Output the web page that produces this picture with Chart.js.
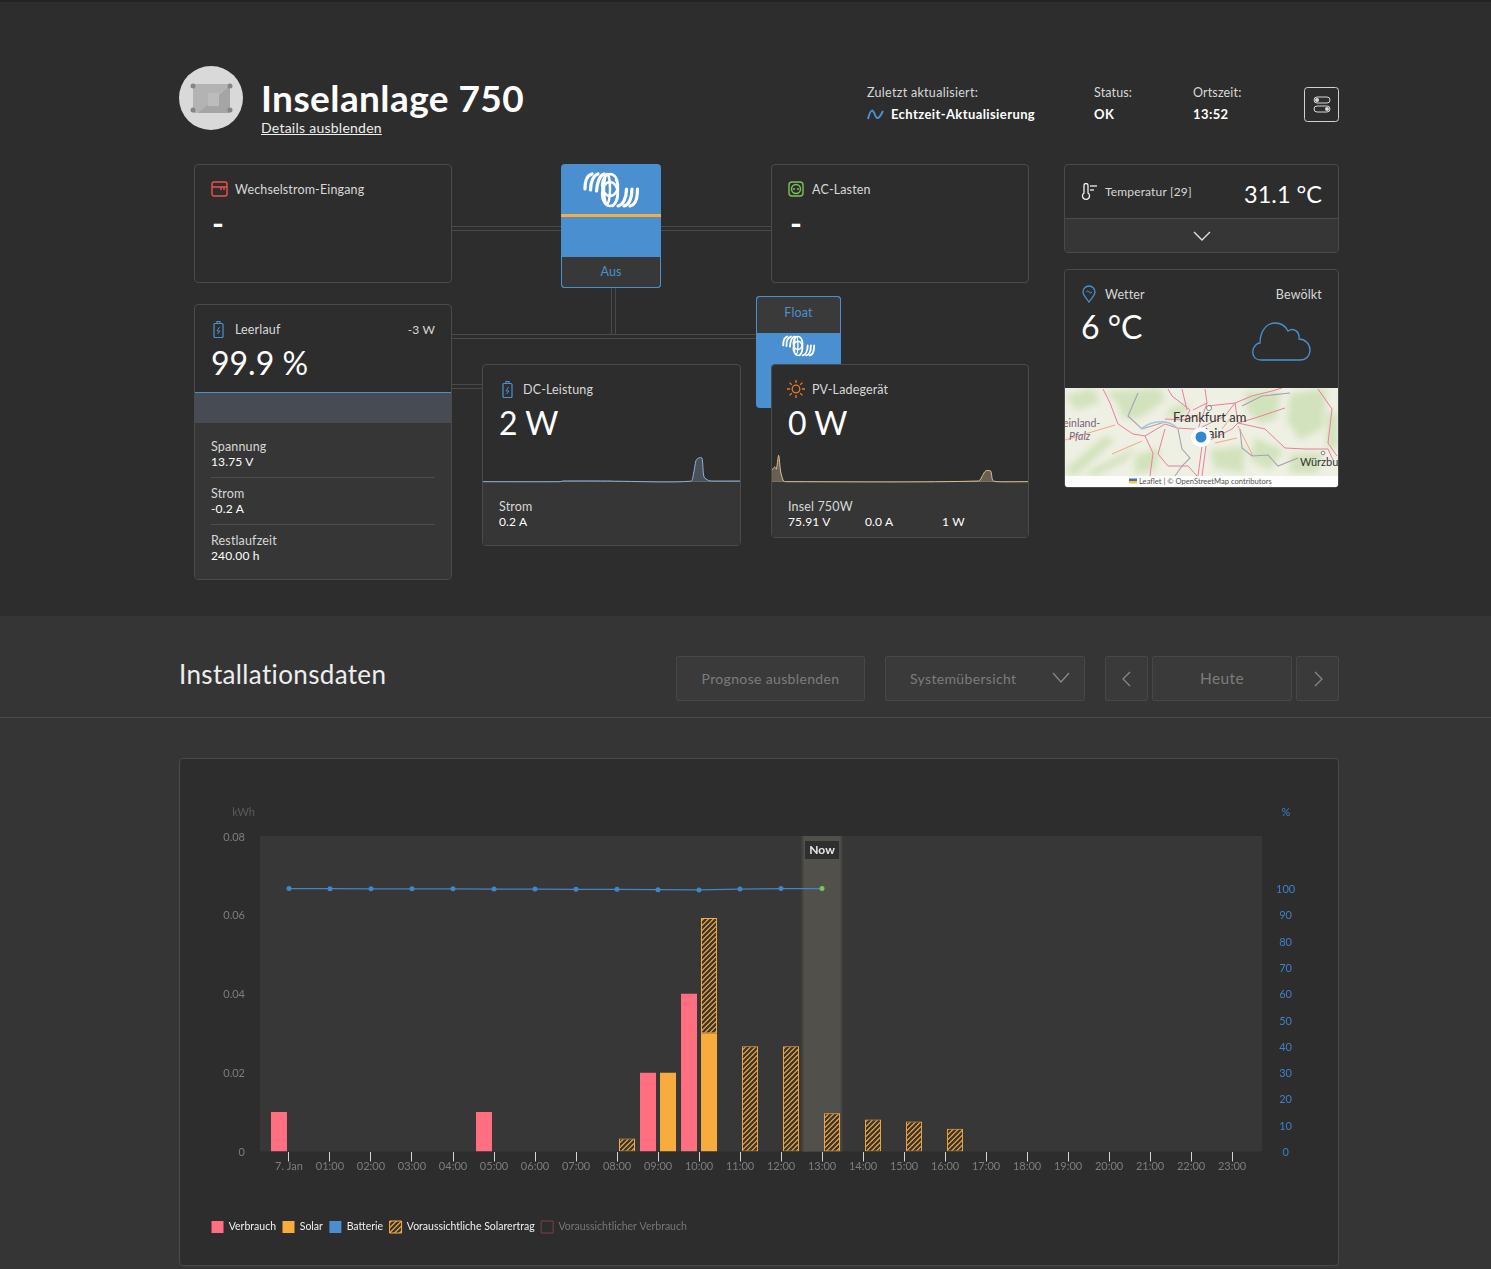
<!DOCTYPE html>
<html lang="de">
<head>
<meta charset="utf-8">
<title>Inselanlage 750</title>
<script src="https://cdn.jsdelivr.net/npm/chart.js@4"></script>
<style>
html, body { margin: 0; padding: 0; width: 1491px; height: 1269px; overflow: hidden; background: #2d2d2d; }
body { position: relative; font-family: Lato, "Open Sans", sans-serif; color: #ddd; }
.abs, .t, .card, .btn { position: absolute; box-sizing: border-box; }
.t { font-size: 12.5px; line-height: 16px; white-space: nowrap; color: #d8d8d8; letter-spacing: .15px; margin-top: 1px; }
.b { font-weight: 700; color: #fff; letter-spacing: .4px; margin-top: 0; }
.v { color: #fff; font-size: 12px; margin-top: 0; }
.big { font-size: 32px; line-height: 40px; color: #fff; letter-spacing: 0; margin-top: 0; }
.card { border: 1px solid #4a4a4a; border-radius: 4px; background: #2d2d2d; }
.low { position: absolute; left: 0; right: 0; bottom: 0; background: #363636; border-radius: 0 0 3px 3px; }
.wire { position: absolute; box-sizing: border-box; border: 0 solid #4a4a4a; }
.btn { border: 1px solid #474747; border-radius: 2px; background: #3a3a3a; color: #7c7c7c; font-size: 14px; line-height: 43px; text-align: center; letter-spacing: .35px; }
canvas { position: absolute; display: block; }
svg { position: absolute; display: block; }
</style>
</head>
<body>
<svg width="0" height="0"><defs>
<symbol id="vlogo" viewBox="0 0 56 36">
  <g fill="none" stroke="#fff" stroke-linecap="round">
    <g stroke-width="3.200">
      <path d="M2 17C2 8 5 3 9 2"/><path d="M7.500 18C7.500 9 11 3 15 2"/><path d="M13.500 19C14 10 17 3 21 2"/>
      <path d="M54.500 17C54.500 26 52 33 47 34"/><path d="M49 17C49 26 46 33 41 34"/><path d="M43.500 17C43.500 26 40 33 35 34"/>
    </g>
    <g stroke-width="2.400">
      <ellipse cx="27" cy="13" rx="8" ry="11"/><ellipse cx="27" cy="22" rx="8" ry="12"/><ellipse cx="24" cy="17" rx="3" ry="15"/>
      <path d="M33 8C36 12 36 27 30 34"/>
    </g>
  </g>
</symbol>
</defs></svg>

<!-- Kopfbereich -->
<div class="abs" style="left:0;top:0;width:1491px;height:2px;background:#232326"></div>
<svg style="left:179px;top:66px" width="64" height="64" viewBox="0 0 64 64">
  <circle cx="32" cy="32" r="32" fill="#d9d9d9"/>
  <rect x="14" y="18" width="37" height="29" fill="#b3b3b3"/>
  <path d="M19 47L51 20V47Z" fill="#a5a5a5"/>
  <rect x="29" y="27" width="11" height="13" fill="#bcbcbc"/>
  <g fill="#858585"><circle cx="14" cy="20" r="2.500"/><circle cx="51" cy="20" r="2.500"/><circle cx="14" cy="44" r="2.500"/><circle cx="51" cy="44" r="2.500"/></g>
</svg>
<div class="t" style="left:261px;top:75px;font-size:37px;line-height:46px;font-weight:700;color:#fff;letter-spacing:.42px;margin:0">Inselanlage 750</div>
<div class="t" style="left:261px;top:120px;font-size:14px;color:#eee;text-decoration:underline;letter-spacing:.25px;margin:0">Details ausblenden</div>
<div class="t" style="left:867px;top:84px;letter-spacing:.3px">Zuletzt aktualisiert:</div>
<svg style="left:867px;top:109px" width="17" height="12" viewBox="0 0 17 12"><path d="M1 10C4 -2 6 1 8 6S12 10 16 2" fill="none" stroke="#4a90d0" stroke-width="2"/></svg>
<div class="t b" style="left:891px;top:106px;font-size:13px">Echtzeit-Aktualisierung</div>
<div class="t" style="left:1094px;top:84px">Status:</div>
<div class="t b" style="left:1094px;top:106px;font-size:13px">OK</div>
<div class="t" style="left:1193px;top:84px">Ortszeit:</div>
<div class="t b" style="left:1193px;top:106px;font-size:13px">13:52</div>
<svg style="left:1304px;top:87px" width="35" height="35" viewBox="0 0 35 35">
  <rect x=".5" y=".5" width="34" height="34" rx="3" fill="none" stroke="#d0d0d0"/>
  <g fill="none" stroke="#d8d8d8"><rect x="10" y="10" width="16" height="6" rx="3"/><rect x="10" y="19" width="16" height="6" rx="3"/></g>
  <circle cx="13" cy="13" r="2" fill="#d8d8d8"/><circle cx="23" cy="22" r="2" fill="#d8d8d8"/>
</svg>

<!-- Verbindungen -->
<div class="wire" style="left:452px;top:226px;width:109px;height:5px;border-width:1px 0"></div>
<div class="wire" style="left:661px;top:226px;width:110px;height:5px;border-width:1px 0"></div>
<div class="wire" style="left:452px;top:334px;width:304px;height:5px;border-width:1px 0"></div>
<div class="wire" style="left:611px;top:288px;width:5px;height:47px;border-width:0 1px"></div>
<div class="wire" style="left:452px;top:384px;width:30px;height:5px;border-width:1px 0"></div>

<!-- Wechselstrom-Eingang -->
<div class="card" style="left:194px;top:164px;width:258px;height:119px"></div>
<svg style="left:211px;top:181px" width="17" height="16" viewBox="0 0 17 16"><g fill="none" stroke="#f0524e" stroke-width="1.400"><rect x="1" y="1" width="15" height="14" rx="2"/><path d="M1 6H16M10 6V9M13 6V9"/></g></svg>
<div class="t" style="left:235px;top:181px">Wechselstrom-Eingang</div>
<div class="t big" style="left:212px;top:203px;font-weight:700">-</div>

<!-- Wechselrichter -->
<div class="abs" style="left:561px;top:164px;width:100px;height:124px;background:#4a90d0;border-radius:4px"></div>
<svg style="left:583px;top:172px" width="56" height="36"><use href="#vlogo"/></svg>
<div class="abs" style="left:561px;top:214px;width:100px;height:3px;background:#f9ac3e"></div>
<div class="t abs" style="left:561px;top:257px;width:100px;height:31px;line-height:30px;background:#383838;border:1px solid #4a90d0;border-top:0;border-radius:0 0 4px 4px;text-align:center;color:#4a90d0;margin:0">Aus</div>

<!-- AC-Lasten -->
<div class="card" style="left:771px;top:164px;width:258px;height:119px"></div>
<svg style="left:788px;top:181px" width="16" height="16" viewBox="0 0 16 16"><g fill="none" stroke="#7ac25a" stroke-width="1.400"><rect x="1" y="1" width="14" height="14" rx="3"/><circle cx="8" cy="8" r="4.500"/></g><circle cx="6" cy="8" r="1" fill="#7ac25a"/><circle cx="10" cy="8" r="1" fill="#7ac25a"/></svg>
<div class="t" style="left:812px;top:181px">AC-Lasten</div>
<div class="t big" style="left:790px;top:203px;font-weight:700">-</div>

<!-- Temperatur -->
<div class="card" style="left:1064px;top:164px;width:275px;height:89px"><div class="low" style="height:33px;border-top:1px solid #4a4a4a"></div></div>
<svg style="left:1081px;top:183px" width="17" height="18" viewBox="0 0 17 18"><g fill="none" stroke="#f2f2f2" stroke-width="1.300"><path d="M3 10V2.500a2 2 0 0 1 4 0V10a3.500 3.500 0 1 1-4 0Z"/><path d="M9 3H16"/><path d="M9 7H13"/></g></svg>
<div class="t" style="left:1105px;top:183px;font-size:12px">Temperatur [29]</div>
<div class="t" style="right:169px;top:178px;font-size:23.500px;line-height:32px;color:#fff;letter-spacing:0;margin:0">31.1 °C</div>
<svg style="left:1193px;top:231px" width="18" height="11" viewBox="0 0 18 11"><path d="M1 1L9 9L17 1" fill="none" stroke="#e0e0e0" stroke-width="1.400"/></svg>

<!-- Wetter -->
<div class="card" style="left:1064px;top:269px;width:275px;height:219px"></div>
<svg style="left:1082px;top:285px" width="14" height="18" viewBox="0 0 14 18"><path d="M7 17C4 13 1 10 1 7a6 6 0 0 1 12 0C13 10 10 13 7 17Z" fill="none" stroke="#4a90d0" stroke-width="1.300"/><path d="M4 7q1.500-2 3 0t3 0" fill="none" stroke="#4a90d0"/></svg>
<div class="t" style="left:1105px;top:286px">Wetter</div>
<div class="t" style="right:169px;top:286px">Bewölkt</div>
<div class="t big" style="left:1081px;top:307px">6 °C</div>
<svg style="left:1252px;top:322px" width="60" height="40" viewBox="0 0 60 40"><path d="M9 38C2 38 0 32 1 28C2 24 5 21 8 21C8 10 14 1 23 1C30 1 34 5 36 9C42 5 48 10 47 17C53 17 58 22 58 28C58 34 54 38 48 38Z" fill="none" stroke="#4a90d0" stroke-width="1.300"/></svg>

<!-- Karte -->
<svg style="left:1065px;top:388px;border-radius:0 0 3px 3px" width="273" height="99" viewBox="0 0 273 99" font-family="Lato, sans-serif">
  <rect width="273" height="99" fill="#eef0e3"/>
  <g fill="#d2e2bc" style="filter:blur(3px)">
    <path d="M40 4L95 0L100 12L75 30L58 30L52 14Z"/><path d="M0 82L40 48L50 52L10 88Z"/><path d="M20 85L70 60L62 72L30 88Z"/>
    <path d="M180 4H215L212 30L195 36L182 22Z"/><path d="M225 6L262 0L258 40L235 52L222 32Z"/><path d="M262 25H273V60H262Z"/>
    <path d="M145 62L180 58L178 85L150 80Z"/><path d="M190 50L218 62L205 82L185 72Z"/><path d="M225 66L258 65L252 85L225 85Z"/>
    <path d="M105 20L125 15L120 26L100 30Z"/><path d="M0 8L28 0L35 14L12 22Z"/><path d="M70 68L95 60L90 82L70 86Z"/>
  </g>
  <g fill="none" stroke="#ea7f9c" stroke-width="1">
    <path d="M38 1L45 15L53 36L68 46L80 48"/><path d="M80 48L88 65L85 88"/><path d="M80 48L100 36L112 40L128 41"/>
    <path d="M100 41L93 66L103 78L123 78L132 88"/><path d="M103 1L107 8L125 22L120 32L100 31"/>
    <path d="M140 1L142 15L128 22"/><path d="M142 15L133 41"/><path d="M143 18L170 15L187 8L207 3L217 0"/>
    <path d="M170 15L173 35L200 41L220 60L240 61L263 61"/><path d="M137 58L133 88"/><path d="M141 58L137 88"/>
    <path d="M143 53L167 41L173 35"/><path d="M253 1L267 21L263 55L272 68"/><path d="M128 41L133 41L160 28L170 15"/>
    <path d="M120 32L133 27"/><path d="M173 35L190 30L220 20"/><path d="M263 61L268 72"/><path d="M117 1L122 22"/>
  </g>
  <g fill="none" stroke="#f0a88a" stroke-width="1">
    <path d="M0 52L50 37"/><path d="M47 66L77 53"/><path d="M173 38L188 68"/><path d="M157 41L167 28"/><path d="M150 55L172 50"/>
  </g>
  <g fill="none" stroke="#a8a0b4" stroke-width="1.100">
    <path d="M73 5L63 28L77 41L100 34"/><path d="M113 41L117 61L125 70L117 78L110 88"/><path d="M177 18L197 8L225 5"/>
    <path d="M175 41L177 60L187 68L203 67L213 78L233 70"/>
  </g>
  <path d="M76 41C90 30 105 33 112 40" fill="none" stroke="#a9c4de" stroke-width="1.600"/>
  <circle cx="144" cy="20" r="2.500" fill="#fff" stroke="#555" stroke-width=".7"/>
  <circle cx="258" cy="65" r="1.800" fill="#fff" stroke="#555" stroke-width=".7"/>
  <text x="108" y="34" font-size="13" fill="#333">Frankfurt am</text>
  <text x="131" y="50" font-size="13" fill="#333">Main</text>
  <text x="-2" y="39" font-size="10.500" fill="#7a5f80">einland-</text>
  <text x="4" y="52" font-size="10.500" font-style="italic" fill="#7a5f80">Pfalz</text>
  <text x="235" y="78" font-size="11" fill="#333">Würzbur</text>
  <rect y="88" width="273" height="11" fill="#fff" opacity=".85"/>
  <rect x="64" y="90.500" width="8" height="2.500" fill="#3d6fc0"/><rect x="64" y="93" width="8" height="2.500" fill="#f5cb2f"/>
  <text x="74" y="96" font-size="7.600" fill="#555">Leaflet | © OpenStreetMap contributors</text>
  <circle cx="136" cy="49" r="10" fill="#fff"/><circle cx="136" cy="49" r="5.500" fill="#2f88d0"/>
</svg>

<!-- Leerlauf -->
<div class="card" style="left:194px;top:304px;width:258px;height:276px"><div class="low" style="height:157px"></div></div>
<svg style="left:212px;top:321px" width="13" height="17" viewBox="0 0 13 17"><g fill="none" stroke="#4a90d0" stroke-width="1.200"><rect x="2" y="2.500" width="9" height="14" rx="1"/><path d="M5 2V.5H8V2"/></g><path d="M7.500 6L5 10H8L5.500 13" fill="none" stroke="#4a90d0"/></svg>
<div class="t" style="left:235px;top:321px">Leerlauf</div>
<div class="t" style="right:1056px;top:321px;font-size:12px">-3 W</div>
<div class="t big" style="left:211px;top:343px">99.9 %</div>
<div class="abs" style="left:195px;top:392px;width:256px;height:31px;background:#474c54;border-top:1px solid #4a90d0"></div>
<div class="t" style="left:211px;top:438px">Spannung</div>
<div class="t v" style="left:211px;top:454px">13.75 V</div>
<div class="abs" style="left:211px;top:477px;width:224px;height:1px;background:#4d4d4d"></div>
<div class="t" style="left:211px;top:485px">Strom</div>
<div class="t v" style="left:211px;top:501px">-0.2 A</div>
<div class="abs" style="left:211px;top:524px;width:224px;height:1px;background:#4d4d4d"></div>
<div class="t" style="left:211px;top:532px">Restlaufzeit</div>
<div class="t v" style="left:211px;top:548px">240.00 h</div>

<!-- Laderegler -->
<div class="abs" style="left:756px;top:296px;width:85px;height:112px;background:#4a90d0;border-radius:4px"></div>
<div class="t abs" style="left:756px;top:296px;width:85px;height:37px;line-height:31px;background:#3a3a3a;border:1px solid #4a90d0;border-bottom:0;border-radius:4px 4px 0 0;text-align:center;color:#4a90d0;margin:0">Float</div>
<svg style="left:782px;top:335px" width="33" height="22"><use href="#vlogo"/></svg>

<!-- DC-Leistung -->
<div class="card" style="left:482px;top:364px;width:259px;height:182px"><div class="low" style="height:63px;border-top:1px solid #4a4a4a"></div></div>
<svg style="left:501px;top:381px" width="13" height="17" viewBox="0 0 13 17"><g fill="none" stroke="#4a90d0" stroke-width="1.200"><rect x="2" y="2.500" width="9" height="14" rx="1"/><path d="M5 2V.5H8V2"/></g><path d="M7.500 6L5 10H8L5.500 13" fill="none" stroke="#4a90d0"/></svg>
<div class="t" style="left:523px;top:381px">DC-Leistung</div>
<div class="t big" style="left:499px;top:403px">2 W</div>
<canvas id="dcSpark" width="257" height="36" style="left:483px;top:448px"></canvas>
<div class="t" style="left:499px;top:498px">Strom</div>
<div class="t v" style="left:499px;top:514px">0.2 A</div>

<!-- PV-Ladegerät -->
<div class="card" style="left:771px;top:364px;width:258px;height:174px"><div class="low" style="height:55px;border-top:1px solid #4a4a4a"></div></div>
<svg style="left:787px;top:380px" width="18" height="18" viewBox="0 0 18 18"><circle cx="9" cy="9" r="3.800" fill="none" stroke="#e57a2c" stroke-width="1.300"/><path d="M9 0V3M9 15V18M0 9H3M15 9H18M2.600 2.600L4.700 4.700M13.300 13.300L15.400 15.400M2.600 15.400L4.700 13.300M13.300 4.700L15.400 2.600" stroke="#e57a2c" stroke-width="1.300"/></svg>
<div class="t" style="left:812px;top:381px">PV-Ladegerät</div>
<div class="t big" style="left:788px;top:403px">0 W</div>
<canvas id="pvSpark" width="256" height="36" style="left:772px;top:448px"></canvas>
<div class="t" style="left:788px;top:498px">Insel 750W</div>
<div class="t v" style="left:788px;top:514px">75.91 V</div>
<div class="t v" style="left:865px;top:514px">0.0 A</div>
<div class="t v" style="left:942px;top:514px">1 W</div>

<!-- Installationsdaten -->
<div class="abs" style="left:0;top:616px;width:1491px;height:653px;background:#353535"></div>
<div class="t" style="left:179px;top:656px;font-size:26px;line-height:36px;color:#eee;letter-spacing:.35px;margin:0">Installationsdaten</div>
<div class="btn" style="left:676px;top:656px;width:189px;height:45px">Prognose ausblenden</div>
<div class="btn" style="left:885px;top:656px;width:200px;height:45px;text-align:left;padding-left:24px">Systemübersicht</div>
<svg style="left:1052px;top:672px" width="18" height="12" viewBox="0 0 18 12"><path d="M1 1L9 10L17 1" fill="none" stroke="#8a8a8a" stroke-width="1.200"/></svg>
<div class="btn" style="left:1105px;top:656px;width:43px;height:45px"></div>
<svg style="left:1121px;top:671px" width="11" height="16" viewBox="0 0 11 16"><path d="M9 1L2 8L9 15" fill="none" stroke="#8a8a8a" stroke-width="1.200"/></svg>
<div class="btn" style="left:1152px;top:656px;width:140px;height:45px;font-size:15.500px">Heute</div>
<div class="btn" style="left:1296px;top:656px;width:43px;height:45px"></div>
<svg style="left:1313px;top:671px" width="11" height="16" viewBox="0 0 11 16"><path d="M2 1L9 8L2 15" fill="none" stroke="#8a8a8a" stroke-width="1.200"/></svg>
<div class="abs" style="left:0;top:717px;width:1491px;height:1px;background:#4a4a4a"></div>

<div class="card" style="left:179px;top:758px;width:1160px;height:508px"></div>
<canvas id="mainChart" width="1105" height="453" style="left:205px;top:790px"></canvas>

<script>
// Stunden und Beschriftungen der x-Achse
const hours = [0,1,2,3,4,5,6,7,8,9,10,11,12,13,14,15,16,17,18,19,20,21,22,23];
const hourLabels = ['7. Jan','01:00','02:00','03:00','04:00','05:00','06:00','07:00','08:00','09:00','10:00','11:00','12:00','13:00','14:00','15:00','16:00','17:00','18:00','19:00','20:00','21:00','22:00','23:00'];
const nowHour = 13;

// kWh pro Stunde
const consumption = [0.01,0,0,0,0,0.01,0,0,0,0.02,0.04,0,0,0,0,0,0,0,0,0,0,0,0,0];
const solar = [0,0,0,0,0,0,0,0,0,0.02,0.03,0,0,0,0,0,0,0,0,0,0,0,0,0];
const solarForecast = [null,null,null,null,null,null,null,null,0.0033,null,0.0292,0.0267,0.0267,0.0097,0.0081,0.0076,0.0058,null,null,null,null,null,null,null];

// Ladezustand in %
const battery = [100,99.95,99.9,99.9,99.9,99.8,99.8,99.7,99.7,99.6,99.5,99.8,100,100,null,null,null,null,null,null,null,null,null,null];

const kwhTicks = [0,0.02,0.04,0.06,0.08];
const kwhTickLabels = ['0','0.02','0.04','0.06','0.08'];
const percentTicks = [0,10,20,30,40,50,60,70,80,90,100];

// Kleine Verläufe in den Karten (x in % der Breite, y in Pixelhöhe)
const dcSparkX = [0,30,31,50,51,80.900,81.900,82.900,83.900,85.200,86,87.800,89.100,100];
const dcSparkY = [0.3,0.3,1,1,0.8,0.8,8,21.7,24,24,5,1.5,1,1];
const pvSparkX = [0,1,1.700,2.600,3.400,4.500,5.600,80.700,82.300,83.400,85.400,86.200,87.900,100];
const pvSparkY = [11.700,15,13,26.700,10,1,0.3,1,6.700,11,11,1.700,0.300,0.300];

const FONT = 'Lato, "Open Sans", sans-serif';
Chart.defaults.animation = false;
Chart.defaults.font.family = FONT;

// Schraffur für die Prognose
function makeHatch() {
    const c = document.createElement('canvas');
    c.width = 5;
    c.height = 5;
    const g = c.getContext('2d');
    g.fillStyle = '#f9ac3e';
    g.fillRect(0, 0, 5, 5);
    g.strokeStyle = '#3a3530';
    g.lineWidth = 2.300;
    g.beginPath();
    g.moveTo(-1, 1); g.lineTo(1, -1);
    g.moveTo(0, 5); g.lineTo(5, 0);
    g.moveTo(4, 6); g.lineTo(6, 4);
    g.stroke();
    return g.createPattern(c, 'repeat');
}
const hatch = makeHatch();

// Hintergrund, "Now"-Band und Achsentitel
const overlay = {
    id: 'overlay',
    beforeDatasetsDraw(chart) {
        const { ctx, chartArea: a, scales } = chart;
        ctx.save();
        ctx.fillStyle = '#373737';
        ctx.fillRect(a.left, a.top, a.width, a.height);
        const x0 = scales.x.getPixelForValue(nowHour - 0.5);
        const x1 = scales.x.getPixelForValue(nowHour + 0.5);
        ctx.fillStyle = '#44443f';
        ctx.fillRect(x0, a.top, x1 - x0, a.height);
        ctx.fillStyle = '#52504a';
        ctx.fillRect(x0 + 2, a.top, x1 - x0 - 4, a.height);
        ctx.restore();
    },
    afterDatasetsDraw(chart) {
        const { ctx, chartArea: a, scales } = chart;
        const xc = scales.x.getPixelForValue(nowHour);
        ctx.save();
        ctx.fillStyle = '#2f2f2f';
        ctx.fillRect(xc - 17, a.top + 5, 34, 18);
        ctx.fillStyle = '#e8e8e8';
        ctx.font = '700 12px ' + FONT;
        ctx.textAlign = 'center';
        ctx.textBaseline = 'middle';
        ctx.fillText('Now', xc, a.top + 14);
        ctx.font = '11px ' + FONT;
        ctx.fillStyle = '#5a5a5a';
        ctx.textAlign = 'right';
        ctx.fillText('kWh', a.left - 5, a.top - 24);
        ctx.fillStyle = '#3f80c8';
        ctx.textAlign = 'center';
        ctx.fillText('%', scales.y1.left + 24, a.top - 24);
        ctx.restore();
    }
};

new Chart(document.getElementById('mainChart'), {
    type: 'bar',
    plugins: [overlay],
    data: {
        labels: hours,
        datasets: [
            { type: 'line', label: 'Batterie', data: battery, yAxisID: 'y1', order: 0,
              borderColor: '#3f86c8', backgroundColor: '#4a90d0', borderWidth: 1.2, pointRadius: 2.5, pointBorderWidth: 0,
              pointBackgroundColor: hours.map(h => h === nowHour ? '#7cc35a' : '#3f86c8') },
            { label: 'Verbrauch', data: consumption, stack: 'use', backgroundColor: '#ff6f80', order: 1 },
            { label: 'Solar', data: solar, stack: 'gen', backgroundColor: '#f9ac3e', order: 1 },
            { label: 'Voraussichtliche Solarertrag', data: solarForecast, stack: 'gen', backgroundColor: hatch,
              borderColor: '#f9ac3e', borderWidth: 1, borderSkipped: false, order: 1 }
        ]
    },
    options: {
        responsive: false,
        layout: { padding: { top: 46 } },
        categoryPercentage: 0.976,
        barPercentage: 0.8,
        plugins: {
            tooltip: { enabled: false },
            legend: {
                position: 'bottom',
                align: 'start',
                labels: {
                    boxWidth: 12, boxHeight: 12, padding: 6.500, font: { size: 10.500 }, useBorderRadius: true, borderRadius: 2,
                    generateLabels() {
                        return [
                            { text: 'Verbrauch', fillStyle: '#ff6f80', strokeStyle: '#ff6f80', lineWidth: 0, fontColor: '#f0f0f0' },
                            { text: 'Solar', fillStyle: '#f9ac3e', strokeStyle: '#f9ac3e', lineWidth: 0, fontColor: '#f0f0f0' },
                            { text: 'Batterie', fillStyle: '#4a90d0', strokeStyle: '#4a90d0', lineWidth: 0, fontColor: '#f0f0f0' },
                            { text: 'Voraussichtliche Solarertrag', fillStyle: hatch, strokeStyle: '#f9ac3e', lineWidth: 1, fontColor: '#f0f0f0' },
                            { text: 'Voraussichtlicher Verbrauch', fillStyle: 'rgba(0,0,0,0)', strokeStyle: '#7a4044', lineWidth: 1, fontColor: '#777' }
                        ];
                    }
                }
            }
        },
        scales: {
            x: {
                type: 'linear',
                offset: false,
                min: -0.707,
                max: 23.730,
                grid: { offset: false, drawOnChartArea: false, drawTicks: true, tickLength: 10, tickColor: '#d0d4dc' },
                border: { display: false },
                afterBuildTicks(scale) { scale.ticks = hours.map(h => ({ value: h })); },
                afterFit(scale) { scale.height = 63; },
                ticks: { autoSkip: false, maxRotation: 0, padding: -2, color: '#7d7d7d', font: { size: 11 },
                         callback: v => hourLabels[v] }
            },
            y: {
                stacked: true,
                min: 0,
                max: 0.08,
                grid: { display: false },
                border: { display: false },
                afterBuildTicks(scale) { scale.ticks = kwhTicks.map(v => ({ value: v })); },
                afterFit(scale) { scale.width = 55; },
                ticks: { padding: 7, labelOffset: 1, color: '#7d7d7d', font: { size: 11 },
                         callback: v => kwhTickLabels[kwhTicks.indexOf(v)] }
            },
            y1: {
                position: 'right',
                min: 0,
                max: 120,
                grid: { display: false },
                border: { display: false },
                afterBuildTicks(scale) { scale.ticks = percentTicks.map(v => ({ value: v })); },
                afterFit(scale) { scale.width = 48; },
                ticks: { padding: 6, labelOffset: 1, crossAlign: 'center', color: '#3f80c8', font: { size: 11 } }
            }
        }
    }
});

function drawSpark(id, xs, ys, lineColor, fillColor) {
    new Chart(document.getElementById(id), {
        type: 'line',
        data: { labels: xs, datasets: [{ data: ys, borderColor: lineColor, backgroundColor: fillColor, fill: 'origin',
                                         borderWidth: 1, pointRadius: 0, tension: 0.25 }] },
        options: {
            responsive: false,
            plugins: { legend: { display: false }, tooltip: { enabled: false } },
            scales: {
                x: { type: 'linear', display: false, min: 0, max: 100 },
                y: { display: false, min: -2, max: 34 }
            }
        }
    });
}
drawSpark('dcSpark', dcSparkX, dcSparkY, '#8fb2d2', 'rgba(130,165,200,0.3)');
drawSpark('pvSpark', pvSparkX, pvSparkY, '#dcc094', 'rgba(220,192,148,0.35)');
</script>
</body>
</html>
